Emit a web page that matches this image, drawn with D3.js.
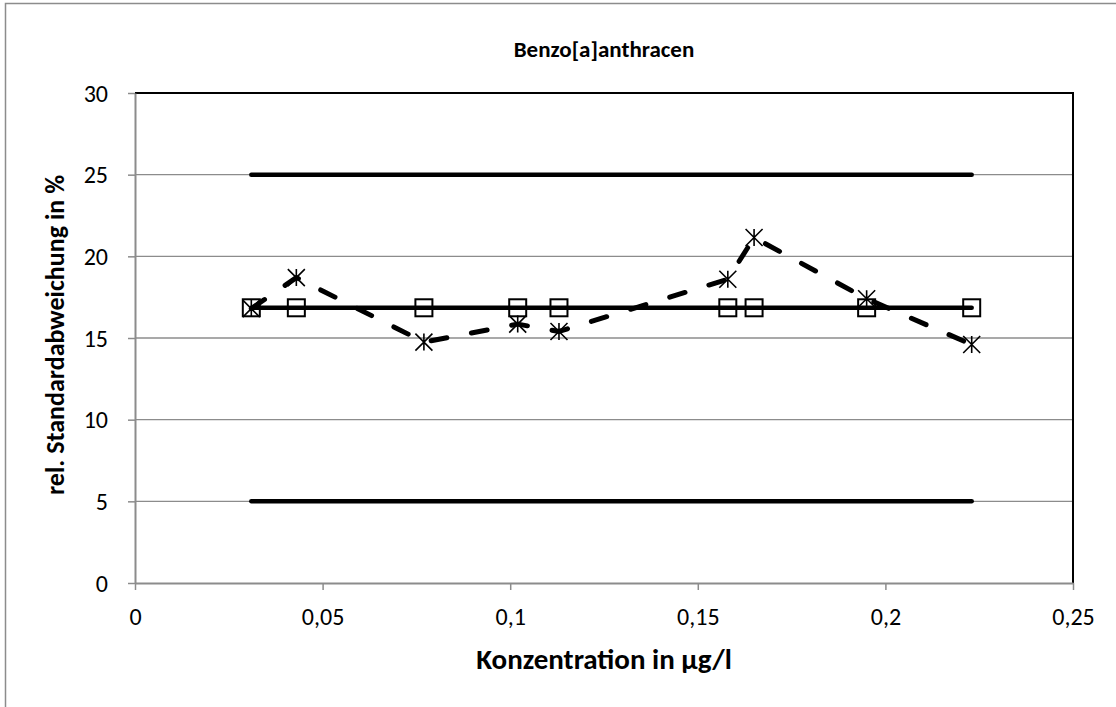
<!DOCTYPE html>
<html>
<head>
<meta charset="utf-8">
<script src="https://cdn.jsdelivr.net/npm/d3@7"></script>
<style>
  html, body { margin: 0; padding: 0; background: #fff; overflow: hidden; }
  svg { display: block; }
  text { font-family: Carlito, Lato, "Open Sans", sans-serif; fill: #000; }
</style>
</head>
<body>
<svg id="chart" width="1116" height="707"></svg>
<script>
// ---- data ----
const chartTitle = "Benzo[a]anthracen";
const xTitle = "Konzentration in µg/l";
const yTitle = "rel. Standardabweichung in %";
const concentrations = [0.031, 0.043, 0.077, 0.102, 0.113, 0.158, 0.165, 0.195, 0.223];
const meanRsd = [16.85, 16.85, 16.85, 16.85, 16.85, 16.85, 16.85, 16.85, 16.85];
const labRsd = [16.8, 18.7, 14.75, 15.85, 15.4, 18.6, 21.15, 17.4, 14.6];
const upperLimit = [25, 25];
const lowerLimit = [5, 5];
const limitX = [0.031, 0.223];
const xTicks = [0, 0.05, 0.1, 0.15, 0.2, 0.25];
const xTickLabels = ["0", "0,05", "0,1", "0,15", "0,2", "0,25"];
const yTicks = [0, 5, 10, 15, 20, 25, 30];

// ---- layout ----
const svg = d3.select("#chart");
const plot = { left: 135, right: 1073, top: 93, bottom: 583 };
const x = d3.scaleLinear().domain([0, 0.25]).range([plot.left, plot.right]);
const y = d3.scaleLinear().domain([0, 30]).range([plot.bottom, plot.top]);

// outer chart frame
svg.append("rect")
  .attr("x", 5.5).attr("y", 3.5)
  .attr("width", 1115).attr("height", 720)
  .attr("fill", "#fff").attr("stroke", "#8c8c8c").attr("stroke-width", 1.5);

// gridlines
svg.append("g").selectAll("line").data(yTicks.filter(d => d > 0 && d < 30)).join("line")
  .attr("x1", plot.left).attr("x2", plot.right)
  .attr("y1", d => y(d)).attr("y2", d => y(d))
  .attr("stroke", "#8c8c8c").attr("stroke-width", 1.3);

// plot area border (black top/right)
svg.append("path")
  .attr("d", `M${plot.left},${plot.top}H${plot.right}V${plot.bottom}`)
  .attr("fill", "none").attr("stroke", "#000").attr("stroke-width", 2);

// axes
const fmt = d => xTickLabels[xTicks.indexOf(d)];
const xAxis = svg.append("g").attr("transform", `translate(0,${plot.bottom})`)
  .call(d3.axisBottom(x).tickValues(xTicks).tickFormat(fmt).tickSizeInner(7).tickSizeOuter(0));
const yAxis = svg.append("g").attr("transform", `translate(${plot.left},0)`)
  .call(d3.axisLeft(y).tickValues(yTicks).tickSizeInner(7).tickSizeOuter(0));
[xAxis, yAxis].forEach(a => {
  a.select(".domain").attr("stroke", "#8c8c8c").attr("stroke-width", 2);
  a.selectAll(".tick line").attr("stroke", "#8c8c8c").attr("stroke-width", 1.5);
  a.selectAll(".tick text").style("font-family", "Carlito, Lato, sans-serif").style("font-size", "24px").attr("fill", "#000");
});
xAxis.selectAll(".tick text").attr("y", 42).attr("dy", 0);
yAxis.selectAll(".tick text").attr("x", -27).attr("dy", "0.34em");

// limit lines
const limitLine = d3.line().x((d, i) => x(limitX[i])).y(d => y(d));
[upperLimit, lowerLimit].forEach(arr => {
  svg.append("path").attr("d", limitLine(arr))
    .attr("fill", "none").attr("stroke", "#000").attr("stroke-width", 4.5).attr("stroke-linecap", "round");
});

// dashed series (lab RSD)
const line = vals => d3.line().x((d, i) => x(concentrations[i])).y(d => y(d))(vals);
svg.append("path").attr("d", line(labRsd))
  .attr("fill", "none").attr("stroke", "#000").attr("stroke-width", 5)
  .attr("stroke-linecap", "round").attr("stroke-linejoin", "round")
  .attr("stroke-dasharray", "16,25");

// solid series (mean RSD)
svg.append("path").attr("d", line(meanRsd))
  .attr("fill", "none").attr("stroke", "#000").attr("stroke-width", 4.5)
  .attr("stroke-linecap", "round");

// star markers
const s = 8.5;
svg.append("g").selectAll("path").data(labRsd).join("path")
  .attr("transform", (d, i) => `translate(${x(concentrations[i])},${y(d)})`)
  .attr("d", `M${-s},${-s}L${s},${s}M${-s},${s}L${s},${-s}M0,${-s}V${s}`)
  .attr("stroke", "#000").attr("stroke-width", 1.6).attr("fill", "none");

// square markers
const q = 8.5;
svg.append("g").selectAll("rect").data(meanRsd).join("rect")
  .attr("x", (d, i) => x(concentrations[i]) - q).attr("y", d => y(d) - q)
  .attr("width", 2 * q).attr("height", 2 * q)
  .attr("fill", "none").attr("stroke", "#000").attr("stroke-width", 2);

// titles
svg.append("text").attr("x", 604).attr("y", 57).attr("text-anchor", "middle")
  .style("font-size", "23px").style("font-weight", "bold").text(chartTitle);
svg.append("text").attr("x", 604).attr("y", 669).attr("text-anchor", "middle")
  .style("font-size", "29px").style("font-weight", "bold").text(xTitle);
svg.append("text").attr("transform", "translate(64,335) rotate(-90)").attr("text-anchor", "middle")
  .style("font-size", "26px").style("font-weight", "bold").text(yTitle);
</script>
</body>
</html>
